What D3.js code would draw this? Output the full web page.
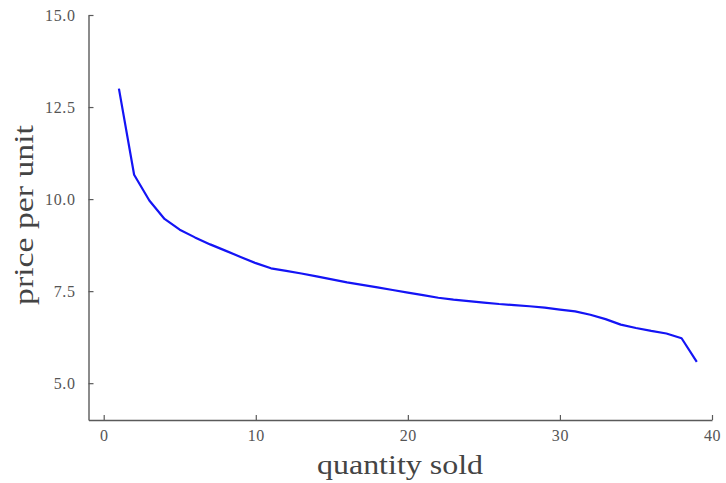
<!DOCTYPE html>
<html>
<head>
<meta charset="utf-8">
<script src="https://cdn.jsdelivr.net/npm/d3@7"></script>
<style>
  body { margin: 0; background: #fff; }
  svg { display: block; }
  text { font-family: "Liberation Serif", "DejaVu Serif", serif; }
</style>
</head>
<body>
<svg id="chart" width="726" height="483"></svg>
<script>
const quantity = [1,2,3,4,5,6,7,8,9,10,11,12,13,14,15,16,17,18,19,20,21,22,23,24,25,26,27,28,29,30,31,32,33,34,35,36,37,38,39];
const price = [13.0,10.66,9.96,9.46,9.17,8.96,8.77,8.60,8.43,8.26,8.12,8.05,7.98,7.90,7.82,7.74,7.67,7.60,7.53,7.46,7.39,7.32,7.27,7.23,7.19,7.15,7.12,7.09,7.05,7.00,6.95,6.86,6.74,6.59,6.50,6.42,6.35,6.22,5.58];
const xTicks = [0,10,20,30,40];
const yTicks = [5.0,7.5,10.0,12.5,15.0];
const xLabel = "quantity sold";
const yLabel = "price per unit";

const svg = d3.select("#chart");
const x = d3.scaleLinear().domain([-1, 40]).range([88.5, 712]);
const y = d3.scaleLinear().domain([4, 15]).range([420, 15]);
const axisColor = "#5a5a5a";
const textColor = "#555";

const gx = svg.append("g").attr("transform", "translate(0,420)")
  .call(d3.axisBottom(x).tickValues(xTicks).tickFormat(d3.format("d")).tickSizeInner(-5).tickSizeOuter(0).tickPadding(10));
const gy = svg.append("g").attr("transform", "translate(88.5,0)")
  .call(d3.axisLeft(y).tickValues(yTicks).tickFormat(d3.format(".1f")).tickSizeInner(-5).tickSizeOuter(0).tickPadding(13));

[gx, gy].forEach(g => {
  g.select(".domain").attr("stroke", axisColor).attr("stroke-width", 1.4);
  g.selectAll(".tick line").attr("stroke", axisColor).attr("stroke-width", 1.2);
  g.selectAll(".tick text").attr("fill", textColor).style("font-size", "16px")
    .style("letter-spacing", "0.6px")
    .style("font-family", '"Liberation Serif", "DejaVu Serif", serif');
});

svg.append("path")
  .datum(quantity.map((q, i) => [q, price[i]]))
  .attr("fill", "none")
  .attr("stroke", "#1414f5")
  .attr("stroke-width", 2.2)
  .attr("stroke-linejoin", "round")
  .attr("d", d3.line().x(d => x(d[0])).y(d => y(d[1])));

svg.append("text")
  .attr("x", 400).attr("y", 474)
  .attr("text-anchor", "middle")
  .attr("fill", "#444")
  .attr("textLength", 166)
  .attr("lengthAdjust", "spacingAndGlyphs")
  .style("font-size", "27px")
  .text(xLabel);

svg.append("text")
  .attr("transform", "translate(33,215) rotate(-90)")
  .attr("text-anchor", "middle")
  .attr("fill", "#444")
  .attr("textLength", 180)
  .attr("lengthAdjust", "spacingAndGlyphs")
  .style("font-size", "27px")
  .text(yLabel);
</script>
</body>
</html>
